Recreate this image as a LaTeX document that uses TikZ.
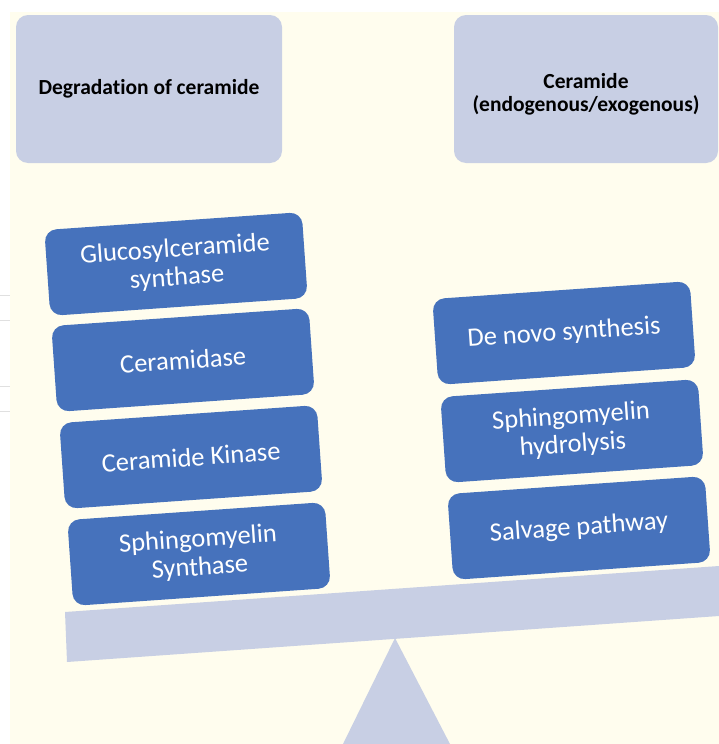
\documentclass[tikz,border=0pt]{standalone}
\usepackage{fontspec}
\setmainfont{Carlito}[Ligatures={NoCommon}]
\definecolor{cream}{HTML}{FFFDEE}
\definecolor{paleblue}{HTML}{C8CFE4}
\definecolor{boxblue}{HTML}{4672BC}
\tikzset{
  topbox/.style={rectangle, rounded corners=12pt, fill=paleblue, align=center,
    text=black, inner sep=0pt, font=\fontsize{21.5}{23}\selectfont\bfseries},
  bluebox/.style={rectangle, rounded corners=12pt, fill=boxblue, text=white,
    minimum width=258pt, minimum height=86pt, align=center, inner sep=0pt,
    font=\fontsize{26.5}{28.5}\selectfont, rotate=4},
}
\begin{document}
\begin{tikzpicture}[x=1pt,y=-1pt]
\useasboundingbox (0,0) rectangle (719,744);
\fill[white] (0,0) rectangle (719,744);
\draw[black!12, line width=1pt] (0,295) -- (10,295) (0,320) -- (10,320) (0,386) -- (10,386) (0,411) -- (10,411);
\fill[cream] (10,12) rectangle (719,744);
% top boxes
\node[topbox, minimum width=266pt, minimum height=148pt] (deg) at (149,89) {Degradation of ceramide};
\node[topbox, minimum width=264pt, minimum height=148pt] (cer) at (586,89) {};
\node[align=center, inner sep=0pt, font=\fontsize{21.5}{23}\selectfont\bfseries] (certext) at ([yshift=-5pt]cer.center) {Ceramide\\(endogenous/exogenous)};
% fulcrum and beam
\fill[paleblue] (343,744) -- (395,638) -- (450,744) -- cycle;
\fill[paleblue] (65,612) -- (719,566) -- (719,616) -- (67,662) -- cycle;
% left column
\node[bluebox] (gcs) at (176,264) {Glucosylceramide\\synthase};
\node[bluebox] (cdase) at (183,360) {Ceramidase};
\node[bluebox] (ck) at (191,457) {Ceramide Kinase};
\node[bluebox] (sms) at (199,554) {Sphingomyelin\\Synthase};
% right column
\node[bluebox] (dns) at (564,333) {De novo synthesis};
\node[bluebox] (smh) at (572,431) {Sphingomyelin\\hydrolysis};
\node[bluebox] (sp) at (579,528) {Salvage pathway};
\end{tikzpicture}
\end{document}
